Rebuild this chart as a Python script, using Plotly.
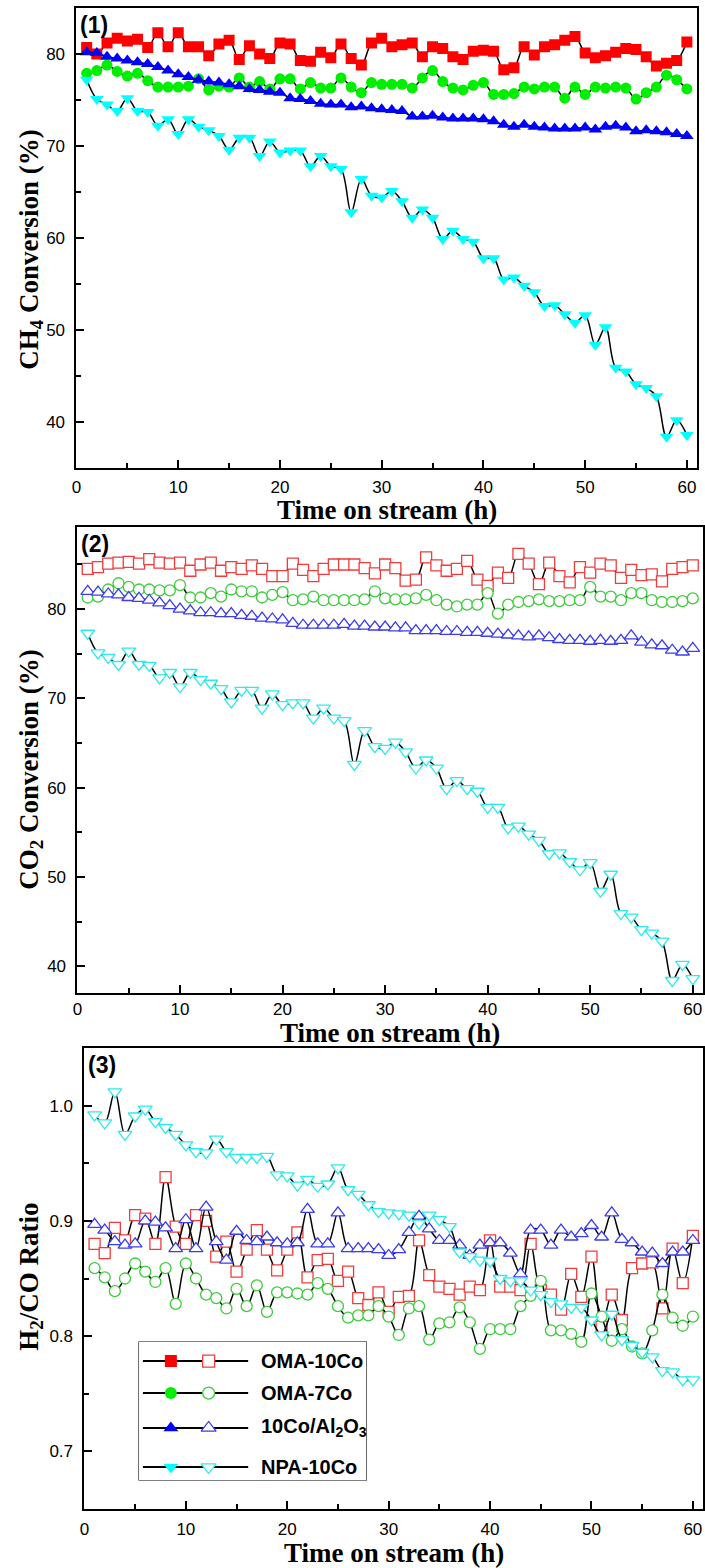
import plotly.graph_objects as go

# ---------------- data ----------------
hours = list(range(1, 61))
x_tick_vals = [0, 10, 20, 30, 40, 50, 60]

series_names = ["OMA-10Co", "OMA-7Co", "10Co/Al<sub>2</sub>O<sub>3</sub>", "NPA-10Co"]

# Panel (1): CH4 conversion (%)
ch4_oma10 = [80.7, 80.0, 81.2, 81.7, 81.4, 81.6, 80.7, 82.3, 80.8, 82.3,
             80.8, 80.8, 79.8, 81.1, 81.5, 79.4, 80.9, 80.0, 79.5, 81.2,
             81.1, 79.3, 79.2, 80.2, 79.6, 81.1, 79.5, 78.8, 81.2, 81.7,
             80.8, 81.0, 81.2, 79.7, 80.8, 80.6, 79.7, 79.4, 80.3, 80.4,
             80.3, 78.3, 78.5, 80.8, 79.9, 80.8, 81.0, 81.5, 81.9, 80.1,
             79.6, 79.8, 80.2, 80.6, 80.5, 79.7, 78.7, 79.0, 79.3, 81.3]
ch4_oma7 = [77.9, 78.2, 78.8, 78.1, 77.6, 77.9, 77.1, 76.4, 76.4, 76.4,
            76.5, 77.3, 76.1, 76.5, 76.4, 77.4, 76.4, 77.0, 76.2, 77.3,
            77.3, 76.2, 76.9, 76.3, 76.3, 77.4, 76.4, 75.8, 76.9, 76.7,
            76.7, 76.7, 76.3, 77.4, 78.2, 77.0, 76.3, 76.1, 76.6, 76.9,
            75.6, 75.6, 75.7, 76.4, 76.2, 76.4, 76.4, 75.2, 76.4, 75.6,
            76.4, 76.3, 76.4, 76.3, 75.1, 75.8, 76.4, 77.7, 77.2, 76.2]
ch4_al2o3 = [80.2, 80.1, 79.7, 79.5, 79.3, 79.1, 78.9, 78.6, 78.2, 77.8,
             77.5, 77.2, 77.0, 76.9, 76.7, 76.5, 76.2, 76.1, 75.9, 75.8,
             75.2, 75.1, 74.9, 74.6, 74.5, 74.5, 74.2, 74.3, 74.1, 74.0,
             73.9, 73.8, 73.2, 73.2, 73.3, 73.1, 73.0, 73.0, 73.0, 72.9,
             72.7, 72.3, 72.1, 72.3, 72.1, 72.0, 71.9, 71.9, 71.9, 72.0,
             71.8, 72.1, 72.2, 72.0, 71.6, 71.7, 71.6, 71.5, 71.3, 71.1]
ch4_npa = [77.2, 75.1, 74.5, 73.8, 75.2, 73.8, 73.7, 72.2, 72.9, 71.3,
           72.9, 72.1, 71.7, 71.1, 69.6, 70.9, 70.9, 68.9, 70.5, 69.3,
           69.5, 69.5, 67.8, 68.9, 67.8, 67.5, 62.8, 66.4, 64.6, 64.4,
           65.1, 64.0, 62.2, 63.1, 62.2, 59.9, 60.8, 59.9, 59.6, 57.8,
           57.8, 55.5, 55.7, 54.8, 54.1, 52.6, 52.7, 51.7, 50.8, 51.6,
           48.4, 50.3, 45.9, 45.5, 44.1, 43.7, 42.8, 38.4, 40.2, 38.6]

# Panel (2): CO2 conversion (%)
co2_oma10 = [84.5, 84.7, 85.1, 85.2, 85.3, 85.1, 85.6, 85.2, 85.1, 85.2,
             84.3, 85.0, 85.2, 84.3, 84.7, 84.5, 84.9, 84.5, 83.7, 83.7,
             85.1, 84.4, 83.7, 84.5, 85.0, 85.0, 85.0, 84.6, 84.0, 85.0,
             84.6, 83.2, 83.3, 85.8, 84.9, 84.3, 84.5, 85.4, 83.3, 82.6,
             84.1, 83.5, 86.2, 85.1, 82.8, 85.2, 83.7, 83.0, 84.7, 84.1,
             85.1, 84.9, 83.5, 84.4, 83.8, 83.9, 83.1, 84.5, 84.7, 84.9]
co2_oma7 = [81.3, 81.4, 82.2, 82.9, 82.5, 82.2, 82.2, 82.1, 82.1, 82.7,
            81.3, 81.3, 81.8, 81.4, 82.2, 82.0, 82.0, 81.3, 81.6, 81.9,
            81.0, 81.1, 81.4, 81.0, 81.0, 81.0, 81.0, 81.1, 82.0, 81.2,
            81.1, 81.1, 81.2, 81.6, 81.0, 80.5, 80.3, 80.5, 80.5, 81.8,
            79.5, 80.5, 80.8, 80.9, 81.1, 80.9, 80.9, 81.0, 81.0, 82.5,
            81.4, 81.4, 81.0, 81.8, 81.8, 81.0, 80.8, 80.8, 80.9, 81.2]
co2_al2o3 = [82.0, 81.9, 81.7, 81.6, 81.3, 81.2, 81.0, 80.7, 80.4, 80.0,
             79.8, 79.6, 79.6, 79.5, 79.5, 79.3, 79.2, 79.0, 78.9, 78.8,
             78.4, 78.2, 78.2, 78.2, 78.2, 78.3, 78.1, 78.1, 78.0, 78.0,
             77.9, 77.9, 77.6, 77.6, 77.6, 77.5, 77.5, 77.4, 77.4, 77.3,
             77.2, 77.1, 77.0, 76.9, 77.0, 76.8, 76.6, 76.5, 76.5, 76.4,
             76.5, 76.4, 76.5, 77.0, 76.3, 76.0, 75.9, 75.4, 75.2, 75.6]
co2_npa = [77.3, 75.1, 74.6, 73.8, 75.3, 73.8, 73.7, 72.3, 72.9, 71.3,
           72.9, 72.1, 71.7, 71.1, 69.6, 70.9, 70.9, 68.9, 70.5, 69.3,
           69.5, 69.5, 67.8, 68.9, 67.8, 67.5, 62.6, 66.4, 64.6, 64.4,
           65.1, 64.0, 62.2, 63.1, 62.2, 59.9, 60.8, 59.9, 59.6, 57.8,
           57.8, 55.5, 55.7, 54.8, 54.1, 52.6, 52.7, 51.7, 50.8, 51.6,
           48.4, 50.3, 45.9, 45.5, 44.1, 43.7, 42.8, 38.4, 40.2, 38.6]

# Panel (3): H2/CO ratio
h2co_oma10 = [0.880, 0.872, 0.894, 0.883, 0.905, 0.902, 0.880, 0.938, 0.895, 0.880,
              0.905, 0.900, 0.869, 0.882, 0.856, 0.875, 0.892, 0.875, 0.857, 0.875,
              0.890, 0.851, 0.866, 0.867, 0.848, 0.856, 0.833, 0.827, 0.838, 0.821,
              0.834, 0.835, 0.883, 0.853, 0.843, 0.841, 0.836, 0.843, 0.840, 0.883,
              0.843, 0.843, 0.840, 0.880, 0.840, 0.836, 0.823, 0.854, 0.834, 0.869,
              0.808, 0.836, 0.814, 0.859, 0.863, 0.864, 0.824, 0.876, 0.846, 0.887]
h2co_oma7 = [0.859, 0.851, 0.839, 0.850, 0.863, 0.856, 0.847, 0.859, 0.828, 0.863,
             0.850, 0.836, 0.833, 0.824, 0.841, 0.826, 0.844, 0.821, 0.838, 0.838,
             0.837, 0.836, 0.846, 0.841, 0.826, 0.816, 0.818, 0.818, 0.826, 0.817,
             0.801, 0.824, 0.826, 0.797, 0.811, 0.812, 0.825, 0.812, 0.789, 0.806,
             0.806, 0.806, 0.826, 0.835, 0.848, 0.805, 0.805, 0.802, 0.795, 0.837,
             0.817, 0.796, 0.806, 0.791, 0.785, 0.805, 0.836, 0.816, 0.809, 0.817]
h2co_al2o3 = [0.897, 0.892, 0.882, 0.879, 0.880, 0.900, 0.899, 0.894, 0.876, 0.901,
              0.876, 0.912, 0.882, 0.866, 0.891, 0.883, 0.882, 0.886, 0.881, 0.880,
              0.881, 0.910, 0.880, 0.880, 0.907, 0.876, 0.876, 0.876, 0.875, 0.870,
              0.875, 0.890, 0.904, 0.893, 0.883, 0.883, 0.879, 0.870, 0.879, 0.881,
              0.881, 0.872, 0.854, 0.892, 0.892, 0.879, 0.892, 0.886, 0.889, 0.896,
              0.886, 0.907, 0.884, 0.881, 0.873, 0.872, 0.863, 0.873, 0.873, 0.883]
h2co_npa = [0.992, 0.985, 1.012, 0.975, 0.991, 0.997, 0.986, 0.981, 0.975, 0.966,
            0.960, 0.959, 0.971, 0.960, 0.955, 0.955, 0.955, 0.956, 0.940, 0.939,
            0.931, 0.936, 0.930, 0.932, 0.946, 0.927, 0.923, 0.914, 0.908, 0.907,
            0.906, 0.905, 0.898, 0.905, 0.901, 0.895, 0.873, 0.869, 0.866, 0.865,
            0.850, 0.848, 0.848, 0.840, 0.836, 0.830, 0.828, 0.825, 0.825, 0.814,
            0.801, 0.819, 0.797, 0.792, 0.786, 0.782, 0.770, 0.769, 0.762, 0.762]

# ---------------- styling ----------------
W, H = 705, 1568


def px(v):
    return v / W


def py(v):
    return 1 - v / H


filled_colors = ["#FF0000", "#00EE00", "#0000FF", "#00FFFF"]
open_colors = ["#F03C3C", "#3CCC3C", "#3C3CF0", "#2EEAEA"]
symbols = ["square", "circle", "triangle-up", "triangle-down"]
sizes = [11, 11, 12, 12]

TICK_FONT = dict(family="Liberation Sans, Arial, sans-serif", size=17, color="black")
TITLE_FONT = dict(family="Liberation Serif, Times New Roman, serif", size=27, color="black", weight=700)
PANEL_FONT = dict(family="Liberation Sans, Arial, sans-serif", size=23, color="black", weight=700)

panels = [
    dict(tag="(1)", data=[ch4_oma10, ch4_oma7, ch4_al2o3, ch4_npa], filled=True,
         xd=(72, 697), yd=(8, 468), yr=[35, 85], dt=10, mdt=5, fmt="",
         ytitle="CH<sub>4</sub> Conversion (%)", ytx=26, yty=250, xty=510, xso=3),
    dict(tag="(2)", data=[co2_oma10, co2_oma7, co2_al2o3, co2_npa], filled=False,
         xd=(73, 703), yd=(527, 993), yr=[37, 89.2], dt=10, mdt=5, fmt="",
         ytitle="CO<sub>2</sub> Conversion (%)", ytx=26, yty=770, xty=1033, xso=0),
    dict(tag="(3)", data=[h2co_oma10, h2co_oma7, h2co_al2o3, h2co_npa], filled=False,
         xd=(80, 703), yd=(1048, 1509), yr=[0.65, 1.05], dt=0.1, mdt=0.05, fmt=".1f",
         ytitle="H<sub>2</sub>/CO Ratio", ytx=26, yty=1277, xty=1553, xso=4),
]

fig = go.Figure()
layout = dict(width=W, height=H, margin=dict(l=0, r=0, t=0, b=0),
              paper_bgcolor="white", plot_bgcolor="white", showlegend=False)
annotations = []

for i, p in enumerate(panels):
    n = i + 1
    xa = "x" if n == 1 else f"x{n}"
    ya = "y" if n == 1 else f"y{n}"
    for k, vals in enumerate(p["data"]):
        if p["filled"]:
            mk = dict(symbol=symbols[k], size=sizes[k], color=filled_colors[k], line=dict(width=0))
        else:
            mk = dict(symbol=symbols[k], size=sizes[k], color="white",
                      line=dict(width=1.3, color=open_colors[k]))
        fig.add_trace(go.Scatter(x=hours, y=vals, xaxis=xa, yaxis=ya, mode="lines+markers",
                                 line=dict(color="black", width=1.5, shape="spline", smoothing=1.0),
                                 marker=mk, hoverinfo="skip"))
    common = dict(showline=True, linecolor="black", linewidth=2, mirror=True,
                  ticks="inside", ticklen=8, tickwidth=1.5, tickcolor="black",
                  showgrid=False, zeroline=False, tickfont=TICK_FONT)
    layout[f"xaxis{'' if n == 1 else n}"] = dict(
        common, domain=[px(p["xd"][0]), px(p["xd"][1])], anchor=ya, range=[0, 61],
        tickvals=x_tick_vals, ticklabelstandoff=p["xso"],
        minor=dict(dtick=5, tick0=0, ticks="inside", ticklen=5, tickwidth=1.5, tickcolor="black"))
    layout[f"yaxis{'' if n == 1 else n}"] = dict(
        common, domain=[py(p["yd"][1]), py(p["yd"][0])], anchor=xa, range=p["yr"],
        tick0=0, dtick=p["dt"], tickformat=p["fmt"], ticklabelstandoff=6,
        minor=dict(dtick=p["mdt"], tick0=0, ticks="inside", ticklen=5, tickwidth=1.5, tickcolor="black"))
    xc = (p["xd"][0] + p["xd"][1]) / 2
    annotations.append(dict(text="Time on stream (h)", x=px(xc), y=py(p["xty"]), xref="paper", yref="paper",
                            showarrow=False, xanchor="center", yanchor="middle", font=TITLE_FONT))
    annotations.append(dict(text=p["ytitle"], x=px(p["ytx"]), y=py(p["yty"]), xref="paper", yref="paper",
                            showarrow=False, textangle=-90, xanchor="center", yanchor="middle", font=TITLE_FONT))
    annotations.append(dict(text=p["tag"], x=px(p["xd"][0] + 2), y=py(p["yd"][0] + 2), xref="paper", yref="paper",
                            showarrow=False, xanchor="left", yanchor="top", font=PANEL_FONT))

# ---------------- custom legend (panel 3) ----------------
lg_x = (135, 364)
lg_y = (1342, 1480)
layout["xaxis4"] = dict(domain=[px(lg_x[0]), px(lg_x[1])], range=[0, 1], visible=False, anchor="y4", fixedrange=True)
layout["yaxis4"] = dict(domain=[py(lg_y[1]), py(lg_y[0])], range=[0, 1], visible=False, anchor="x4", fixedrange=True)
layout["shapes"] = [dict(type="rect", xref="paper", yref="paper",
                         x0=px(lg_x[0]), x1=px(lg_x[1]), y0=py(lg_y[1]), y1=py(lg_y[0]),
                         line=dict(color="black", width=1.2), fillcolor="white", layer="below")]
row_y = [0.862, 0.63, 0.377, 0.094]
for k, name in enumerate(series_names):
    fig.add_trace(go.Scatter(x=[0.017, 0.48], y=[row_y[k], row_y[k]], xaxis="x4", yaxis="y4", mode="lines",
                             line=dict(color="black", width=2), hoverinfo="skip"))
    fig.add_trace(go.Scatter(x=[0.14], y=[row_y[k]], xaxis="x4", yaxis="y4", mode="markers",
                             marker=dict(symbol=symbols[k], size=sizes[k] + 1, color=filled_colors[k], line=dict(width=0)),
                             hoverinfo="skip"))
    fig.add_trace(go.Scatter(x=[0.306], y=[row_y[k]], xaxis="x4", yaxis="y4", mode="markers",
                             marker=dict(symbol=symbols[k], size=sizes[k] + 1, color="white",
                                         line=dict(width=1.3, color=open_colors[k])),
                             hoverinfo="skip"))
    annotations.append(dict(text=name, x=0.528, y=row_y[k], xref="x4", yref="y4", showarrow=False,
                            xanchor="left", yanchor="middle",
                            font=dict(family="Liberation Sans, Arial, sans-serif", size=20, color="black", weight=700)))

layout["annotations"] = annotations
fig.update_layout(**layout)
fig.write_html("out.html")
